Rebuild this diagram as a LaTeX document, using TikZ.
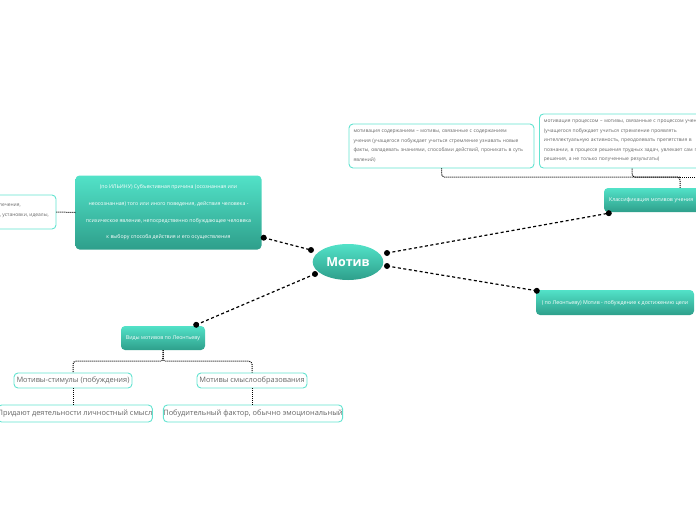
\documentclass[tikz,border=0pt]{standalone}
\usepackage{fontspec}
\setmainfont{Open Sans}
\usetikzlibrary{shapes.geometric,calc}
\definecolor{tealtop}{HTML}{52E2C8}
\definecolor{tealbot}{HTML}{2E9F8B}
\definecolor{tealline}{HTML}{62E3D0}
\definecolor{txtgray}{HTML}{666666}
\tikzset{
  filledbox/.style={rectangle, rounded corners=4pt, top color=tealtop, bottom color=tealbot,
    draw=none, text=white, inner sep=0pt},
  plainbox/.style={rectangle, rounded corners=4pt, draw=tealline, line width=0.9pt,
    fill=white, text=txtgray, inner sep=0pt},
  conn/.style={draw=black, line width=1.2pt, dash pattern=on 3pt off 2.5pt},
  treeline/.style={draw=black, line width=1pt, dash pattern=on 1pt off 1pt, rounded corners=3pt},
  tiny/.style={font=\fontsize{5.3}{9.3}\selectfont},
  boxtxt/.style={font=\fontsize{4.95}{9.4}\selectfont},
  small/.style={font=\fontsize{7.4}{9}\selectfont},
}
\begin{document}
\begin{tikzpicture}[x=1pt,y=-1pt]
\useasboundingbox (0,0) rectangle (696,520);
\clip (0,0) rectangle (696,520);

% central node
\node[ellipse, top color=tealtop, bottom color=tealbot, minimum width=70pt, minimum height=36pt,
  text=white, font=\fontsize{12.5}{14}\selectfont\bfseries] (motiv) at (348,262) {Мотив};

% left big box
\node[filledbox, minimum width=186pt, minimum height=74pt, align=center,
  font=\fontsize{5.2}{16.7}\selectfont] (ilin) at (168.5,212.5)
  {(по ИЛЬИНУ) Субъективная причина (осознанная или\\
   неосознанная) того или иного поведения, действия человека -\\
   психическое явление, непосредственно побуждающее человека\\
   к выбору способа действия и его осуществления};

% left cut box
\node[plainbox, minimum width=70pt, minimum height=34pt] (cut) at (21,212) {};
\node[boxtxt, text=txtgray, anchor=base east, inner sep=0pt] (cutt1) at (21,206) {потребности, влечения,};
\node[boxtxt, text=txtgray, anchor=base east, inner sep=0pt] (cutt2) at (49,216) {убеждения, установки, идеалы,};
\draw[treeline] (cut.east) -- (ilin.west);

% top boxes
\node[plainbox, boxtxt, minimum width=185pt, minimum height=44pt, text width=176pt, align=left,
  inner xsep=4.5pt] (boxa) at (441.5,146)
  {мотивация содержанием – мотивы, связанные с содержанием\\
   учения (учащегося побуждает учиться стремление узнавать новые\\
   факты, овладевать знаниями, способами действий, проникать в суть\\
   явлений)};
\node[plainbox, boxtxt, minimum height=54pt, text width=200pt, align=left,
  inner xsep=4.5pt, anchor=west] (boxb) at (539,141)
  {мотивация процессом – мотивы, связанные с процессом учения\\
   (учащегося побуждает учиться стремление проявлять\\
   интеллектуальную активность, преодолевать препятствия в\\
   познании, в процессе решения трудных задач, увлекает сам процесс\\
   решения, а не только полученные результаты)};

% classification box
\node[filledbox, tiny, minimum width=152pt, minimum height=24pt, text width=142pt, align=left,
  inner xsep=5pt] (cls) at (680,200) {Классификация мотивов учения};

\coordinate (bus) at (680,177);
\coordinate (busend) at (700,177);
\draw[treeline] (cls.north) -- (bus) -| (boxa.south);
\draw[treeline] (bus) -| ($(boxb.south west)+(93,0)$);
\draw[treeline] (bus) -- (busend);

% right bottom box
\node[filledbox, tiny, minimum width=158pt, minimum height=25pt, text depth=-2pt] (leon) at (615,302.5)
  {( по Леонтьеву) Мотив - побуждение к достижению цели};

% types box
\node[filledbox, tiny, minimum width=84pt, minimum height=24pt, text depth=-2pt] (vidy) at (163,338)
  {Виды мотивов по Леонтьеву};

% children
\node[plainbox, small, minimum width=118pt, minimum height=15pt] (c1) at (73,380.5) {Мотивы-стимулы (побуждения)};
\node[plainbox, small, minimum width=110pt, minimum height=15pt] (c2) at (252,380.5) {Мотивы смыслообразования};
\node[plainbox, small, minimum width=154pt, minimum height=17pt] (g1) at (75,413.5) {Придают деятельности личностный смысл};
\node[plainbox, small, minimum width=178pt, minimum height=17pt] (g2) at (253,413.5) {Побудительный фактор, обычно эмоциональный};

\draw[treeline] (vidy.south) -- ++(0,11) -| (c1.north);
\draw[treeline] (vidy.south) -- ++(0,11) -| (c2.north);
\draw[treeline] (c1.south) -- (c1.south |- g1.north);
\draw[treeline] (c2.south) -- (c2.south |- g2.north);

% main connectors
\coordinate (d1) at ($(ilin.south east)+(2,-12)$);
\coordinate (d2) at ($(motiv.center)+(-37,-12)$);
\coordinate (d3) at ($(motiv.center)+(39,-9)$);
\coordinate (d4) at ($(cls.south west)+(5,1)$);
\coordinate (d5) at ($(motiv.center)+(39,4)$);
\coordinate (d6) at ($(leon.north west)+(1,1)$);
\coordinate (d7) at ($(motiv.center)+(-33,12)$);
\coordinate (d8) at ($(vidy.north east)+(-9,-1)$);
\draw[conn] (d1) -- (d2);
\draw[conn] (d3) -- (d4);
\draw[conn] (d5) -- (d6);
\draw[conn] (d7) -- (d8);
\foreach \p in {d1,d2,d3,d4,d5,d6,d7,d8} \fill (\p) circle (3pt);
\end{tikzpicture}
\end{document}
